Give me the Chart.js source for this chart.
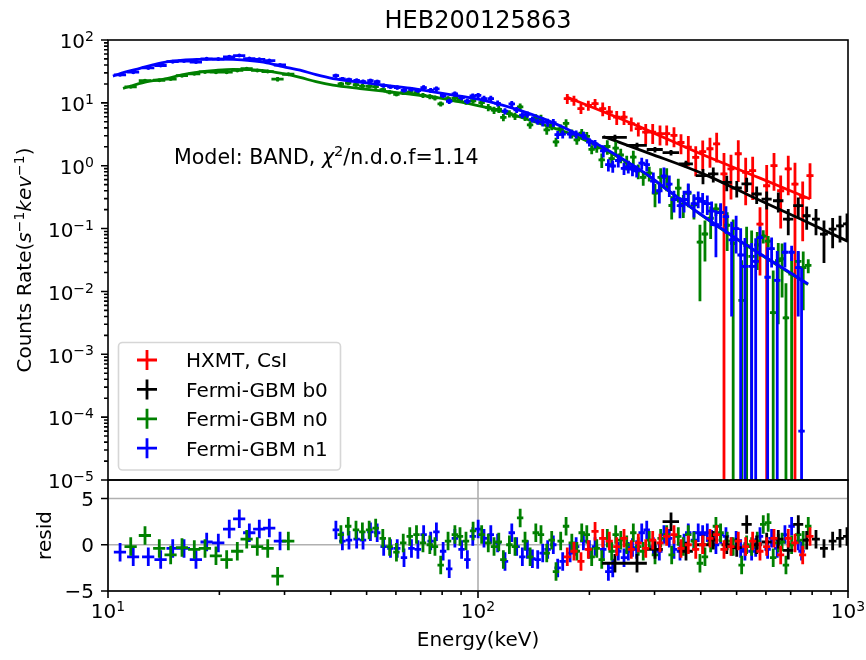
<!DOCTYPE html>
<html><head><meta charset="utf-8">
<style>html,body{margin:0;padding:0;background:#fff}canvas{display:block}</style>
<script src="https://cdn.jsdelivr.net/npm/chart.js@4.4.1/dist/chart.umd.min.js"></script>
</head><body>
<canvas id="c" width="866" height="660"></canvas>
<script>
// ---------------- DATA ----------------
const chartTitle = 'HEB200125863';
const seriesLabels = ['HXMT, CsI', 'Fermi-GBM b0', 'Fermi-GBM n0', 'Fermi-GBM n1'];
const yTickExps = [-5, -4, -3, -2, -1, 0, 1, 2];
const xTickExps = [1, 2, 3];
const residTicks = [-5, 0, 5];
const residSigma = 1;

// HXMT CsI
const csiEnergy = [174.3,181.7,189.8,198.7,207.2,217.3,226.4,237.1,248.1,259.6,
  271.2,284.0,296.6,310.4,323.6,338.6,353.7,370.2,387.7,404.9,
  423.6,441.6,462.2,482.8,505.2,529.0,552.5,578.3,602.9,631.0,
  657.8,689.5,719.0,754.3,789.5];
const csiHalfWidth = [3.8,4.0,4.2,4.4,4.6,4.8,5.0,5.2,5.5,5.7,
  6.0,6.2,6.5,6.8,7.1,7.4,7.8,8.1,8.5,8.9,
  9.3,9.7,10.2,10.6,11.1,11.6,12.2,12.7,13.3,13.9,
  14.5,15.2,15.8,16.6,17.4];
const csiRate = [11.70,11.0,8.10,9.15,9.73,8.10,7.15,5.95,5.95,4.66,
  3.88,3.42,3.42,3.23,3.23,3.03,2.34,1.97,1.36,1.68,
  1.86,2.23,0.74,0.89,1.55,0.785,0.836,0.118,0.48,1.0,
  0.40,0.89,0.51,0.313,0.695];
const csiRateErr = [2.1,2.0,1.46,1.65,1.75,2.0,1.8,1.5,1.5,1.17,
  0.97,1.2,1.2,1.13,1.13,1.06,0.82,0.99,0.68,0.84,
  0.93,1.1,0.85,0.6,1.0,0.55,0.55,0.1,0.55,0.6,
  0.3,0.55,0.6,0.25,0.4];
const csiResid = [-1.3,-0.7,-1.8,-0.5,1.45,0.7,0.4,-0.2,0.7,-0.5,
  0.2,-0.4,0.5,0.2,0.9,1.1,-0.4,0,-0.5,0,
  0.7,1.1,-0.5,-0.2,0.4,-0.2,0.4,-0.7,-0.2,0.7,
  -1.1,0.7,0.2,-1.1,0.9];
const csiModelE = [173.7,269.8,398.1,578.3,789.5];
const csiModelRate = [12.4,4.30,1.56,0.634,0.295];

// Fermi-GBM b0
const b0Energy = [234.5,269.0,300.8,332.4,364.9,405.6,432.4,470.2,500.4,532.3,
  566.5,602.9,648.1,689.5,733.9,773.3,819.4,861.2,908.9,951.5,993.8];
const b0HalfWidth = [18,17,15,17,16,18,14,15,16,17,18,19,21,22,23,19,20,21,22,23,24];
const b0Rate = [2.82,2.10,1.81,1.62,1.07,0.696,0.74,0.544,0.442,0.513,
  0.355,0.295,0.277,0.141,0.231,0.160,0.141,0.0814,0.0978,0.110,0.119];
const b0RateErr = [0.28,0.21,0.18,0.16,0.13,0.19,0.2,0.15,0.13,0.13,
  0.11,0.094,0.097,0.063,0.08,0.064,0.063,0.053,0.049,0.05,0.054];
const b0Resid = [-2.0,-2.0,-0.5,2.5,-0.7,0,0.5,0,-0.3,2.2,0,0.3,0.6,-0.6,2.2,0.5,0.6,-0.4,0.4,0.7,0.9];
const b0ModelE = [218.1,291.6,406.3,543.4,741.8,1000];
const b0ModelRate = [2.92,1.56,0.741,0.333,0.143,0.0625];

// Fermi-GBM n0
const n0Energy = [11.52,12.59,13.76,14.77,15.85,17.11,18.29,19.58,20.93,22.36,23.71,25.32,27.02,28.74,30.72,
  42.6,44.6,46.8,48.7,50.8,52.9,55.3,57.7,60.2,62.8,
  65.4,68.2,71.0,74.1,76.5,79.3,83.0,86.6,89.4,92.8,
  97.0,102.3,106.6,110.5,113.8,117.1,121.6,125.9,130.0,134.0,
  138.3,143.3,148.0,153.4,158.2,162.5,167.3,173.0,179.3,185.0,
  190.7,196.8,202.9,209.4,216.0,223.6,229.8,235.6,243.1,252.3,
  262.9,271.1,279.6,290.3,300.9,311.7,323.6,333.8,347.8,358.8,
  370.1,383.4,398.0,410.6,425.4,439.6,452.6,471.5,489.4,515.9,
  532.1,549.0,568.5,590.2,608.6,627.8,647.9,663.5,679.7,704.1,
  733.6,756.8,780.9];
const n0HalfWidth = [0.44,0.48,0.52,0.56,0.60,0.65,0.70,0.74,0.80,0.85,0.90,0.96,1.03,1.09,1.17,
  0.85,0.89,0.94,0.97,1.02,1.06,1.11,1.15,1.2,1.26,
  1.31,1.36,1.42,1.48,1.53,1.59,1.66,1.73,1.79,1.86,
  1.94,2.05,2.13,2.21,2.28,2.34,2.43,2.52,2.6,2.68,
  2.77,2.87,2.96,3.07,3.16,3.25,3.35,3.46,3.59,3.7,
  3.81,3.94,4.06,4.19,4.32,4.47,4.6,4.71,4.86,5.05,
  5.26,5.42,5.59,5.81,6.02,6.23,6.47,6.68,6.96,7.18,
  7.4,7.67,7.96,8.21,8.51,8.79,9.05,9.43,9.79,10.3,
  10.6,11.0,11.4,11.8,12.2,12.6,13.0,13.3,13.6,14.1,
  14.7,15.1,15.6];
const n0Rate = [18.0,22.5,22.9,23.9,27.1,29.0,31.0,30.8,30.8,32.8,34.9,32.8,31.5,23.8,28.5,
  19.95,20.6,19.4,18.5,18.3,18.1,16.2,14.8,13.7,14.4,
  14.8,14.5,13.2,12.6,12.0,9.63,11.7,11.9,11.3,10.3,
  10.8,10.1,8.47,7.66,7.9,5.86,6.74,6.15,8.64,5.90,
  4.45,5.83,5.55,3.72,4.40,2.39,3.88,4.73,3.24,2.57,
  3.29,2.94,1.82,1.93,1.24,2.02,1.30,1.91,1.48,1.14,
  1.37,0.83,0.651,0.763,0.368,0.653,0.654,0.233,0.439,0.245,
  0.363,0.239,0.061,0.082,0.146,0.205,0.181,0.113,0.058,0.0072,
  0.0535,0.036,0.055,0.076,0.063,0.0046,0.031,0.033,0.0038,0.0189,
  0.030,0.024,0.026];
const n0RateErr = [0.9,1.1,1.1,1.2,1.3,1.4,1.5,1.5,1.5,1.6,1.7,1.6,1.5,1.9,1.4,
  1.5,1.5,1.4,1.4,1.35,1.3,1.2,1.1,1.0,1.05,
  1.1,1.1,1.2,1.15,1.1,0.9,1.07,1.1,1.03,0.95,
  1.0,1.3,1.1,1.0,1.0,0.76,0.88,0.8,1.1,0.77,
  0.58,0.76,0.92,0.61,0.73,0.39,0.64,0.78,0.53,0.42,
  0.54,0.49,0.30,0.32,0.32,0.52,0.34,0.50,0.39,0.30,
  0.36,0.22,0.17,0.20,0.15,0.26,0.26,0.093,0.18,0.098,
  0.145,0.10,0.054,0.052,0.078,0.046,0.061,0.069,0.082,0.024,
  0.0535,0.057,0.033,0.018,0.013,0.017,0.028,0.025,0.0097,0.023,
  0.013,0.019,0.0065];
const n0Resid = [-0.2,1.0,-0.4,-1.1,-0.3,-0.5,-0.4,-1.2,-1.6,-0.7,0.6,-0.2,-0.4,-3.4,0.4,
  1.1,2.0,1.6,1.4,1.6,1.8,0.7,-0.2,-0.8,0.2,
  0.9,1.1,0.2,0,-0.2,-2.2,0.4,1.1,0.9,0.4,
  1.5,1.1,0.2,-0.2,0.3,-1.6,0,-0.2,2.9,0.4,
  -1.3,1.3,1.1,-0.9,0.5,-2.9,0.4,2.0,0.2,-0.7,
  1.3,1.1,-1.3,-0.4,-1.6,0.7,-0.7,1.1,0.5,0,
  1.3,-0.2,-0.7,0.5,-1.1,0.7,1.1,-1.1,0.9,-0.2,
  1.1,0.4,-2.0,-1.3,0.2,2.0,1.3,0.4,-0.2,-2.2,
  0,-0.2,0.4,2.2,2.4,-1.4,0.2,0.3,-2.2,0,
  1.1,0.5,2.0];
const n0ModelE = [10.98,12.59,14.41,15.95,17.73,19.58,21.77,24.20,26.85,29.72,33.04,36.49,40.56,47.98,55.70,65.50,75.57,86.66,99.2,114.7,129.9,151.7,177.3,207.2,242.0,282.8,330.4,398.1,501.2,615.4,779.8];
const n0ModelRate = [17.0,21.3,24.4,28.1,31.1,32.9,34.0,33.8,32.3,29.1,25.4,21.7,19.1,16.9,15.3,13.8,12.4,10.7,9.15,7.47,5.95,4.41,3.23,2.14,1.32,0.749,0.382,0.170,0.0672,0.031,0.0128];

// Fermi-GBM n1
const n1Energy = [10.78,11.70,12.85,13.88,14.96,16.05,17.29,18.48,19.87,21.27,22.64,24.10,25.64,27.29,29.17,
  41.3,43.0,44.8,47.0,48.9,51.2,53.4,55.6,58.0,60.5,
  63.1,66.1,68.8,71.3,74.5,77.2,80.5,83.6,86.6,90.3,
  93.6,96.8,100.1,103.8,108.3,113.0,118.3,123.4,127.2,131.8,
  136.0,140.3,145.0,149.6,154.3,159.8,164.2,169.4,177.4,184.2,
  192.7,200.0,207.2,218.1,225.1,231.3,239.4,248.1,254.8,261.5,
  268.4,277.0,285.8,297.8,309.1,318.1,328.9,338.6,351.5,360.5,
  370.1,383.4,393.7,404.7,416.6,428.0,439.6,452.6,467.9,484.7,
  498.5,512.8,526.6,549.0,563.0,578.3,606.4,621.7,643.8,675.4,
  704.1,733.6,749];
const n1HalfWidth = [0.41,0.44,0.49,0.53,0.57,0.61,0.66,0.70,0.76,0.81,0.86,0.92,0.97,1.04,1.11,
  0.83,0.86,0.9,0.94,0.98,1.02,1.07,1.11,1.16,1.21,
  1.26,1.32,1.38,1.43,1.49,1.54,1.61,1.67,1.73,1.81,
  1.87,1.94,2.0,2.08,2.17,2.26,2.37,2.47,2.54,2.64,
  2.72,2.81,2.9,2.99,3.09,3.2,3.28,3.39,3.55,3.68,
  3.85,4.0,4.14,4.36,4.5,4.63,4.79,4.96,5.1,5.23,
  5.37,5.54,5.72,5.96,6.18,6.36,6.58,6.77,7.03,7.21,
  7.4,7.67,7.87,8.09,8.33,8.56,8.79,9.05,9.36,9.69,
  9.97,10.3,10.5,11.0,11.3,11.6,12.1,12.4,12.9,13.5,
  14.1,14.7,15.0];
const n1Rate = [27.9,30.8,35.9,39.3,45.2,46.3,44.5,50.1,49.7,53.9,56.5,50.6,49.3,47.0,40.0,
  27.1,24.0,23.4,22.7,21.8,22.5,21.7,18.8,18.0,17.5,
  15.8,16.4,15.7,17.5,15.8,16.7,13.1,10.6,13.9,12.1,
  10.6,12.9,13.2,11.7,11.7,9.8,7.36,9.63,7.72,6.40,
  6.54,5.48,5.04,4.93,4.89,4.84,3.12,3.17,3.19,3.17,
  3.02,2.38,2.23,1.73,1.04,0.99,1.21,0.91,0.96,0.88,
  0.83,1.10,1.04,0.568,0.40,0.683,0.509,0.29,0.231,0.29,
  0.38,0.25,0.30,0.27,0.25,0.19,0.115,0.18,0.155,0.066,
  0.10,0.038,0.025,0.025,0.030,0.072,0.0168,0.048,0.015,0.042,
  0.042,0.024,0.00006];
const n1RateErr = [1.2,1.4,1.6,1.7,2.0,2.0,1.9,2.2,2.1,2.3,2.4,2.2,2.1,2.0,1.8,
  2.0,1.8,1.7,1.7,1.6,1.7,1.6,1.4,1.3,1.3,
  1.2,1.2,1.2,1.6,1.45,1.5,1.2,1.0,1.3,1.1,
  1.0,1.2,1.2,1.3,1.3,1.08,0.81,1.06,0.85,0.70,
  0.72,0.60,0.55,0.72,0.72,0.71,0.46,0.47,0.47,0.47,
  0.44,0.35,0.33,0.38,0.23,0.22,0.27,0.20,0.21,0.20,
  0.18,0.24,0.23,0.21,0.15,0.25,0.19,0.11,0.085,0.11,
  0.14,0.10,0.09,0.097,0.086,0.08,0.08,0.072,0.072,0.062,
  0.06,0.063,0.046,0.034,0.04,0.036,0.0335,0.024,0.029,0.018,
  0.0115,0.02,0.0235];
const n1Resid = [-0.8,-1.3,-1.3,-1.6,-0.4,-0.4,-1.6,0.3,0.2,1.7,2.8,1.3,1.7,1.8,0.4,
  1.6,0.4,0.5,0.6,0.5,1.4,1.3,-0.2,-0.4,-0.4,
  -1.4,-0.4,-0.5,1.1,0.4,1.4,-0.7,-2.6,0.7,-0.5,
  -1.6,0.9,1.7,0.7,1.1,0.2,-1.8,1.3,-0.2,-1.3,
  -0.5,-1.5,-1.6,-0.9,-0.5,0,-2.5,-1.8,-0.9,-0.2,
  0.4,-0.5,-0.2,-0.5,-2.9,-2.5,-0.7,-1.4,-0.7,-0.3,
  -0.5,1.3,1.6,-0.2,-0.7,1.1,0.7,-0.5,-0.7,0.2,
  1.3,0.5,1.3,1.1,1.3,0.6,0,1.1,0.9,-0.2,
  0.5,-0.4,-0.7,-0.7,-0.3,0.9,-0.5,0.7,-0.4,1.1,
  2.0,0.4,-0.7];
const n1ModelE = [10.31,11.12,12.20,13.15,14.41,15.95,17.73,19.58,21.77,24.20,26.85,29.72,33.04,36.49,40.56,47.98,55.70,65.50,75.57,84.03,95.15,107.8,129.9,151.7,177.3,207.2,242.0,282.8,330.4,398.1,501.2,615.4,779.8];
const n1ModelRate = [26.6,30.8,35.3,39.8,45.0,47.9,49.1,49.7,49.1,47.0,43.4,37.7,33.1,28.1,24.4,21.3,19.1,17.1,15.0,13.5,12.1,10.4,7.61,5.46,3.64,2.30,1.36,0.763,0.386,0.172,0.0685,0.0316,0.0131];

// ---------------- STYLE ----------------
const FONT = '"DejaVu Sans", sans-serif';
const FS = 20;
const BAR_W = 2.8, LINE_W = 2.8, SPINE_W = 1.6, TICK_W = 1.6;
const MAJOR = 7, MINOR = 4, PAD = 7;
const COLORS = ['#ff0000', '#000000', '#008000', '#0000ff'];

const SERIES = [
  {E: csiEnergy, dE: csiHalfWidth, R: csiRate, dR: csiRateErr, res: csiResid, mE: csiModelE, mR: csiModelRate},
  {E: b0Energy, dE: b0HalfWidth, R: b0Rate, dR: b0RateErr, res: b0Resid, mE: b0ModelE, mR: b0ModelRate},
  {E: n0Energy, dE: n0HalfWidth, R: n0Rate, dR: n0RateErr, res: n0Resid, mE: n0ModelE, mR: n0ModelRate},
  {E: n1Energy, dE: n1HalfWidth, R: n1Rate, dR: n1RateErr, res: n1Resid, mE: n1ModelE, mR: n1ModelRate}
];
const residOrder = [1, 2, 3, 4];

const datasets = [];
SERIES.forEach((s, k) => {
  const col = COLORS[k];
  datasets.push({
    type: 'scatter', label: seriesLabels[k], yAxisID: 'y',
    data: s.E.map((e, i) => ({x: e, y: s.R[i]})),
    errX: s.dE, errY: s.dR, barColor: col,
    pointRadius: 2, pointHoverRadius: 2, pointBackgroundColor: col, pointBorderWidth: 0,
    order: 12 - 2 * k
  });
  datasets.push({
    type: 'line', label: seriesLabels[k] + ' model', xAxisID: 'x', yAxisID: 'y',
    data: s.mE.map((e, i) => ({x: e, y: s.mR[i]})),
    borderColor: col, borderWidth: LINE_W, pointRadius: 0, fill: false,
    cubicInterpolationMode: 'monotone', order: 11 - 2 * k
  });
  datasets.push({
    type: 'scatter', label: seriesLabels[k] + ' resid', yAxisID: 'r',
    data: s.E.map((e, i) => ({x: e, y: s.res[i]})),
    errX: s.dE, errY: residSigma, barColor: col,
    pointRadius: 2, pointHoverRadius: 2, pointBackgroundColor: col, pointBorderWidth: 0,
    order: residOrder[k]
  });
});

// ---------------- HELPERS ----------------
function fontStr(size, italic) { return (italic ? 'italic ' : '') + size + 'px ' + FONT; }
function expStr(e) { return e < 0 ? '\u2212' + (-e) : String(e); }
function drawRich(c, segs, x, y, align, base) {
  const B0 = base || FS;
  let w = 0; const ws = [];
  for (const s of segs) { c.font = fontStr(s.sup ? B0 * 0.7 : (s.size || B0), s.it); const m = c.measureText(s.t).width; ws.push(m); w += m; }
  let cx = align === 'center' ? x - w / 2 : align === 'right' ? x - w : x;
  c.textAlign = 'left'; c.textBaseline = 'alphabetic';
  segs.forEach((s, i) => {
    c.font = fontStr(s.sup ? B0 * 0.7 : (s.size || B0), s.it);
    c.fillText(s.t, cx, s.sup ? y - B0 * 0.36 : y);
    cx += ws[i];
  });
}
function pow10Segs(e) { return [{t: '10'}, {t: expStr(e), sup: true}]; }

function drawErrorBars(chart, ds) {
  const xs = chart.scales.x, ys = chart.scales[ds.yAxisID];
  const c = chart.ctx;
  const isLog = ys.type === 'logarithmic';
  c.save();
  c.beginPath(); c.rect(xs.left, ys.top, xs.right - xs.left, ys.bottom - ys.top); c.clip();
  c.strokeStyle = ds.barColor; c.lineWidth = BAR_W; c.lineCap = 'butt';
  c.beginPath();
  ds.data.forEach((p, i) => {
    const x = xs.getPixelForValue(p.x), y = ys.getPixelForValue(p.y);
    const dx = ds.errX[i];
    const dy = typeof ds.errY === 'number' ? ds.errY : ds.errY[i];
    c.moveTo(xs.getPixelForValue(p.x - dx), y); c.lineTo(xs.getPixelForValue(p.x + dx), y);
    const lo = p.y - dy;
    const yLo = (isLog && lo <= 0) ? ys.bottom + 20 : ys.getPixelForValue(lo);
    c.moveTo(x, ys.getPixelForValue(p.y + dy)); c.lineTo(x, yLo);
  });
  c.stroke();
  c.restore();
}

const overlay = {
  id: 'overlay',
  beforeDraw(chart) {
    const c = chart.ctx; c.save(); c.fillStyle = '#fff'; c.fillRect(0, 0, chart.width, chart.height); c.restore();
  },
  beforeDatasetsDraw(chart) {
    const c = chart.ctx, xs = chart.scales.x, rs = chart.scales.r;
    c.save();
    c.strokeStyle = '#b0b0b0'; c.lineWidth = 1.6;
    c.beginPath();
    residTicks.forEach(v => { const py = rs.getPixelForValue(v); c.moveTo(xs.left, py); c.lineTo(xs.right, py); });
    xTickExps.forEach(e => { const px = xs.getPixelForValue(Math.pow(10, e)); c.moveTo(px, rs.top); c.lineTo(px, rs.bottom); });
    c.stroke();
    c.restore();
  },
  beforeDatasetDraw(chart, args) {
    const ds = chart.data.datasets[args.index];
    if (ds.errY !== undefined) drawErrorBars(chart, ds);
  },
  afterDatasetsDraw(chart) {
    const c = chart.ctx, xs = chart.scales.x, ys = chart.scales.y, rs = chart.scales.r;
    const L = xs.left, R = xs.right, T = ys.top, M = ys.bottom, B = rs.bottom;
    c.save();
    // spines
    c.strokeStyle = '#000'; c.lineWidth = SPINE_W;
    c.strokeRect(L, T, R - L, M - T);
    c.strokeRect(L, M, R - L, B - M);
    // ticks
    c.lineWidth = TICK_W;
    c.beginPath();
    yTickExps.forEach(e => { const py = ys.getPixelForValue(Math.pow(10, e)); c.moveTo(L, py); c.lineTo(L - MAJOR, py); });
    for (let e = yTickExps[0]; e < yTickExps[yTickExps.length - 1]; e++) {
      for (let m = 2; m <= 9; m++) { const py = ys.getPixelForValue(m * Math.pow(10, e)); c.moveTo(L, py); c.lineTo(L - MINOR, py); }
    }
    residTicks.forEach(v => { const py = rs.getPixelForValue(v); c.moveTo(L, py); c.lineTo(L - MAJOR, py); });
    xTickExps.forEach(e => { const px = xs.getPixelForValue(Math.pow(10, e)); c.moveTo(px, B); c.lineTo(px, B + MAJOR); });
    for (let e = xTickExps[0]; e < xTickExps[xTickExps.length - 1]; e++) {
      for (let m = 2; m <= 9; m++) { const px = xs.getPixelForValue(m * Math.pow(10, e)); c.moveTo(px, B); c.lineTo(px, B + MINOR); }
    }
    c.stroke();
    // tick labels
    c.fillStyle = '#000';
    yTickExps.forEach(e => drawRich(c, pow10Segs(e), L - MAJOR - PAD, ys.getPixelForValue(Math.pow(10, e)) + 8.3, 'right'));
    residTicks.forEach(v => drawRich(c, [{t: v < 0 ? '\u2212' + (-v) : String(v)}], L - MAJOR - PAD, rs.getPixelForValue(v) + 7.3, 'right'));
    xTickExps.forEach(e => drawRich(c, pow10Segs(e), xs.getPixelForValue(Math.pow(10, e)), B + 27, 'center'));
    // axis labels
    drawRich(c, [{t: 'Energy(keV)'}], (L + R) / 2, 646, 'center');
    c.save(); c.translate(31, (T + M) / 2); c.rotate(-Math.PI / 2);
    drawRich(c, [{t: 'Counts Rate('}, {t: 's', it: true}, {t: '\u22121', sup: true}, {t: 'kev', it: true}, {t: '\u22121', sup: true}, {t: ')'}], 0, 0, 'center');
    c.restore();
    c.save(); c.translate(51, (M + B) / 2); c.rotate(-Math.PI / 2);
    drawRich(c, [{t: 'resid'}], 0, 0, 'center');
    c.restore();
    // title
    drawRich(c, [{t: chartTitle, size: 24}], (L + R) / 2, 28, 'center');
    // model annotation
    drawRich(c, [{t: 'Model: BAND, '}, {t: '\u03c7', it: true}, {t: '2', sup: true}, {t: '/n.d.o.f=1.14'}], 174, 163.5, 'left', 20.6);
    // legend
    const lx = L + 10.5, lyB = M - 10, lw = 222, lh = 127.5, rr = 4;
    const ly = lyB - lh;
    c.beginPath();
    c.moveTo(lx + rr, ly); c.lineTo(lx + lw - rr, ly); c.arcTo(lx + lw, ly, lx + lw, ly + rr, rr);
    c.lineTo(lx + lw, ly + lh - rr); c.arcTo(lx + lw, ly + lh, lx + lw - rr, ly + lh, rr);
    c.lineTo(lx + rr, ly + lh); c.arcTo(lx, ly + lh, lx, ly + lh - rr, rr);
    c.lineTo(lx, ly + rr); c.arcTo(lx, ly, lx + rr, ly, rr); c.closePath();
    c.fillStyle = 'rgba(255,255,255,0.8)'; c.fill();
    c.strokeStyle = 'rgba(204,204,204,0.8)'; c.lineWidth = 1.6; c.stroke();
    seriesLabels.forEach((lab, k) => {
      const cy = ly + 17.5 + k * 29.4, cx = lx + 28.5;
      c.strokeStyle = COLORS[k]; c.lineWidth = BAR_W;
      c.beginPath(); c.moveTo(cx - 10, cy); c.lineTo(cx + 10, cy); c.moveTo(cx, cy - 10); c.lineTo(cx, cy + 10); c.stroke();
      c.fillStyle = '#000';
      drawRich(c, [{t: lab}], lx + 67.5, cy + 7.3, 'left');
    });
    c.restore();
  }
};

new Chart(document.getElementById('c'), {
  type: 'scatter',
  data: {datasets},
  options: {
    responsive: false, animation: false, devicePixelRatio: 1, events: [],
    layout: {padding: {left: 0, right: 18, top: 40, bottom: 0}},
    plugins: {legend: {display: false}, tooltip: {enabled: false}, title: {display: false}},
    scales: {
      x: {type: 'logarithmic', min: 10, max: 1000, position: 'bottom',
          grid: {display: false}, border: {display: false}, ticks: {display: false},
          afterFit: s => { s.height = 69; }},
      r: {type: 'linear', min: -5, max: 7, position: 'left', stack: 'panels', stackWeight: 111, weight: 0,
          grid: {display: false}, border: {display: false}, ticks: {display: false},
          afterFit: s => { s.width = 108; }},
      y: {type: 'logarithmic', min: 1e-5, max: 100, position: 'left', stack: 'panels', stackWeight: 440, weight: 1,
          grid: {display: false}, border: {display: false}, ticks: {display: false},
          afterFit: s => { s.width = 108; }}
    }
  },
  plugins: [overlay]
});
</script>
</body></html>
